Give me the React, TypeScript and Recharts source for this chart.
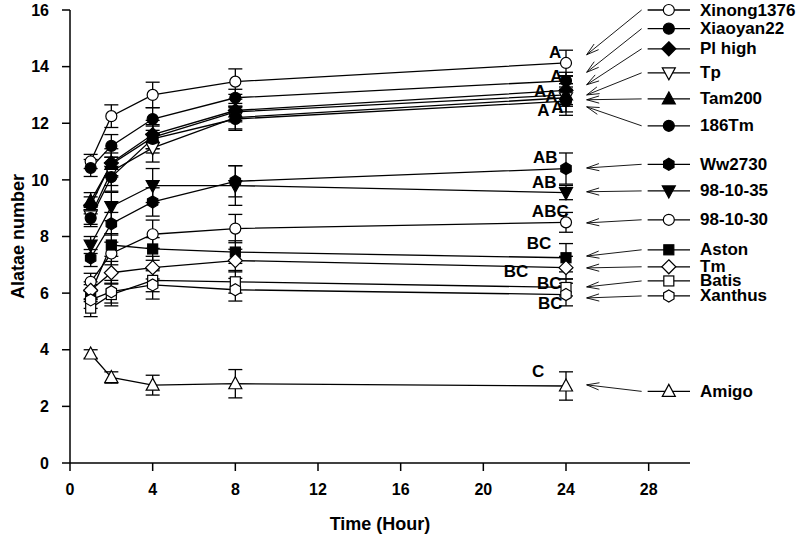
import React from "react";
import {
    LineChart,
    Line,
    XAxis,
    YAxis,
    ErrorBar,
    ReferenceLine,
    ReferenceDot,
} from "recharts";

const FONT = "'Liberation Sans', Arial, sans-serif";

// sampling times (hours)
const times = [1, 2, 4, 8, 24];

const seriesNames = [
    "Xinong1376", "Xiaoyan22", "Pl high", "Tp", "Tam200", "186Tm", "Ww2730",
    "98-10-35", "98-10-30", "Aston", "Tm", "Batis", "Xanthus", "Amigo",
];

// means
const xinong1376 = [10.65, 12.25, 13.0, 13.47, 14.13];
const xiaoyan22 = [10.42, 11.2, 12.15, 12.9, 13.5];
const plHigh = [9.1, 10.6, 11.6, 12.45, 13.16];
const tp = [8.73, 10.3, 11.13, 12.2, 12.9];
const tam200 = [9.25, 10.55, 11.5, 12.4, 13.0];
const tm186 = [8.65, 10.1, 11.45, 12.15, 12.78];
const ww2730 = [7.24, 8.45, 9.22, 9.95, 10.4];
const s981035 = [7.7, 9.06, 9.8, 9.8, 9.55];
const s981030 = [6.4, 7.4, 8.08, 8.28, 8.5];
const aston = [6.0, 7.7, 7.56, 7.45, 7.25];
const tmOpen = [6.1, 6.72, 6.9, 7.15, 6.9];
const batis = [5.47, 5.95, 6.45, 6.4, 6.2];
const xanthus = [5.76, 6.05, 6.29, 6.12, 5.95];
const amigo = [3.85, 3.02, 2.75, 2.8, 2.72];

// standard errors
const xinong1376Err = [0.25, 0.4, 0.45, 0.45, 0.45];
const xiaoyan22Err = [0.3, 0.4, 0.4, 0.3, 0.3];
const plHighErr = [0.3, 0.5, 0.5, 0.4, 0.5];
const tpErr = [0.3, 0.5, 0.5, 0.4, 0.5];
const tam200Err = [0.3, 0.4, 0.4, 0.3, 0.4];
const tm186Err = [0.3, 0.5, 0.5, 0.4, 0.5];
const ww2730Err = [0.3, 0.4, 0.5, 0.55, 0.55];
const s981035Err = [0.3, 0.5, 0.6, 0.7, 0.25];
const s981030Err = [0.3, 0.4, 0.5, 0.5, 0.35];
const astonErr = [0.3, 0.4, 0.4, 0.4, 0.5];
const tmOpenErr = [0.3, 0.4, 0.4, 0.4, 0.4];
const batisErr = [0.3, 0.4, 0.4, 0.4, 0.3];
const xanthusErr = [0.3, 0.4, 0.5, 0.4, 0.4];
const amigoErr = [0.15, 0.2, 0.35, 0.5, 0.5];

const means = [
    xinong1376, xiaoyan22, plHigh, tp, tam200, tm186, ww2730,
    s981035, s981030, aston, tmOpen, batis, xanthus, amigo,
];
const errs = [
    xinong1376Err, xiaoyan22Err, plHighErr, tpErr, tam200Err, tm186Err, ww2730Err,
    s981035Err, s981030Err, astonErr, tmOpenErr, batisErr, xanthusErr, amigoErr,
];

// marker shape + fill per series
const markers: [string, boolean][] = [
    ["circle", false], ["circle", true], ["diamond", true], ["triDown", false],
    ["triUp", true], ["circle", true], ["hexagon", true], ["triDown", true],
    ["circle", false], ["square", true], ["diamond", false], ["square", false],
    ["hexagon", false], ["triUp", false],
];

// legend rows on the right: y of the row, and y the arrow points at (data units)
const legendY = [16.0, 15.34, 14.63, 13.78, 12.86, 11.91, 10.55, 9.61, 8.59, 7.53, 6.93, 6.43, 5.9, 2.53];
const arrowTipY = [14.42, 13.8, 13.36, 13.0, 12.83, 12.58, 10.42, 9.58, 8.48, 7.31, 6.89, 6.22, 5.83, 2.76];

// significance letters next to the 24 h points
const letterText = ["A", "A", "A", "A", "A", "A", "AB", "AB", "ABC", "BC", "BC", "BC", "BC", "C"];
const letterX = [23.48, 23.53, 22.75, 23.29, 22.9, 23.58, 23.0, 22.95, 23.24, 22.7, 21.58, 23.19, 23.24, 22.65];
const letterY = [14.49, 13.64, 13.11, 12.93, 12.44, 12.54, 10.78, 9.89, 8.9, 7.74, 6.78, 6.33, 5.65, 3.22];

const data = times.map((t, i) => {
    const row: Record<string, number> = { t };
    means.forEach((m, s) => {
        row[`s${s}`] = m[i];
        row[`e${s}`] = errs[s][i];
    });
    return row;
});

function Marker({ shape, filled, cx, cy }: { shape: string; filled: boolean; cx: number; cy: number }) {
    const fill = filled ? "#000" : "#fff";
    const common = { fill, stroke: "#000", strokeWidth: 1.2 };
    const r = 5.5;
    if (shape === "circle") return <circle cx={cx} cy={cy} r={r} {...common} />;
    if (shape === "square")
        return <rect x={cx - 5} y={cy - 5} width={10} height={10} {...common} />;
    if (shape === "diamond")
        return <polygon points={`${cx},${cy - 7} ${cx + 7},${cy} ${cx},${cy + 7} ${cx - 7},${cy}`} {...common} />;
    if (shape === "triUp")
        return <polygon points={`${cx},${cy - 7} ${cx + 6.5},${cy + 5} ${cx - 6.5},${cy + 5}`} {...common} />;
    if (shape === "triDown")
        return <polygon points={`${cx},${cy + 7} ${cx + 6.5},${cy - 5} ${cx - 6.5},${cy - 5}`} {...common} />;
    // hexagon
    const pts = [0, 1, 2, 3, 4, 5]
        .map((k) => {
            const a = (Math.PI / 3) * k - Math.PI / 2;
            return `${cx + 6 * Math.cos(a)},${cy + 6 * Math.sin(a)}`;
        })
        .join(" ");
    return <polygon points={pts} {...common} />;
}

const Arrow = (p: any) => {
    const { x1, y1, x2, y2 } = p;
    const ang = Math.atan2(y1 - y2, x1 - x2);
    const L = 13;
    const spread = 0.28;
    return (
        <g stroke="#000" strokeWidth={0.9} fill="none">
            <line x1={x1} y1={y1} x2={x2} y2={y2} />
            <line x1={x2} y1={y2} x2={x2 + L * Math.cos(ang + spread)} y2={y2 + L * Math.sin(ang + spread)} />
            <line x1={x2} y1={y2} x2={x2 + L * Math.cos(ang - spread)} y2={y2 + L * Math.sin(ang - spread)} />
        </g>
    );
};

const legendRow = (s: number) => (p: any) => {
    const { x1, y1, x2 } = p;
    const [shape, filled] = markers[s];
    return (
        <g>
            <line x1={x1} y1={y1} x2={x2} y2={y1} stroke="#000" strokeWidth={1.3} />
            <Marker shape={shape} filled={filled} cx={(x1 + x2) / 2} cy={y1} />
            <text
                x={x2 + 10}
                y={y1}
                dominantBaseline="central"
                fontFamily={FONT}
                fontWeight="bold"
                fontSize={17}
                fill="#000"
            >
                {seriesNames[s]}
            </text>
        </g>
    );
};

export default function App() {
    return (
        <div style={{ position: "absolute", left: 0, top: 0, background: "#fff" }}>
            <LineChart
                width={796}
                height={539}
                data={data}
                margin={{ top: 10, right: 106, left: 0, bottom: 0 }}
            >
                <XAxis
                    type="number"
                    dataKey="t"
                    domain={[0, 30]}
                    ticks={[0, 4, 8, 12, 16, 20, 24, 28]}
                    allowDataOverflow
                    height={76}
                    stroke="#000"
                    strokeWidth={1.5}
                    tickSize={8}
                    tickMargin={13}
                    tick={{ fill: "#000", fontSize: 16, fontWeight: "bold", fontFamily: FONT }}
                    label={{
                        content: ({ viewBox }: any) => (
                            <text
                                x={viewBox.x + viewBox.width / 2}
                                y={viewBox.y + 61}
                                textAnchor="middle"
                                dominantBaseline="central"
                                fontFamily={FONT}
                                fontWeight="bold"
                                fontSize={18}
                                fill="#000"
                            >
                                Time (Hour)
                            </text>
                        ),
                    }}
                />
                <YAxis
                    type="number"
                    domain={[0, 16]}
                    ticks={[0, 2, 4, 6, 8, 10, 12, 14, 16]}
                    width={70}
                    stroke="#000"
                    strokeWidth={1.5}
                    tickSize={8}
                    tickMargin={13}
                    tick={{ fill: "#000", fontSize: 16, fontWeight: "bold", fontFamily: FONT }}
                    label={{
                        content: ({ viewBox }: any) => {
                            const cx = viewBox.x + 18;
                            const cy = viewBox.y + viewBox.height / 2;
                            return (
                                <text
                                    x={cx}
                                    y={cy}
                                    transform={`rotate(-90, ${cx}, ${cy})`}
                                    textAnchor="middle"
                                    dominantBaseline="central"
                                    fontFamily={FONT}
                                    fontWeight="bold"
                                    fontSize={18}
                                    fill="#000"
                                >
                                    Alatae number
                                </text>
                            );
                        },
                    }}
                />
                {seriesNames.map((name, s) => (
                    <Line
                        key={name}
                        name={name}
                        type="linear"
                        dataKey={`s${s}`}
                        stroke="#000"
                        strokeWidth={1.3}
                        isAnimationActive={false}
                        activeDot={false}
                        dot={(p: any) => (
                            <Marker
                                key={`${name}-${p.index}`}
                                shape={markers[s][0]}
                                filled={markers[s][1]}
                                cx={p.cx}
                                cy={p.cy}
                            />
                        )}
                    >
                        <ErrorBar
                            dataKey={`e${s}`}
                            width={7}
                            stroke="#000"
                            strokeWidth={1.3}
                            direction="y"
                            isAnimationActive={false}
                        />
                    </Line>
                ))}
                {letterText.map((txt, i) => (
                    <ReferenceDot
                        key={`l${i}`}
                        x={letterX[i]}
                        y={letterY[i]}
                        ifOverflow="visible"
                        shape={(p: any) => (
                            <text
                                x={p.cx}
                                y={p.cy}
                                textAnchor="middle"
                                dominantBaseline="central"
                                fontFamily={FONT}
                                fontWeight="bold"
                                fontSize={17}
                                fill="#000"
                            >
                                {txt}
                            </text>
                        )}
                    />
                ))}
                {seriesNames.map((name, s) => (
                    <ReferenceLine
                        key={`a${s}`}
                        ifOverflow="visible"
                        segment={[
                            { x: 27.66, y: legendY[s] },
                            { x: 25.0, y: arrowTipY[s] },
                        ]}
                        shape={Arrow}
                    />
                ))}
                {seriesNames.map((name, s) => (
                    <ReferenceLine
                        key={`g${s}`}
                        ifOverflow="visible"
                        segment={[
                            { x: 27.95, y: legendY[s] },
                            { x: 30, y: legendY[s] },
                        ]}
                        shape={legendRow(s)}
                    />
                ))}
            </LineChart>
        </div>
    );
}
